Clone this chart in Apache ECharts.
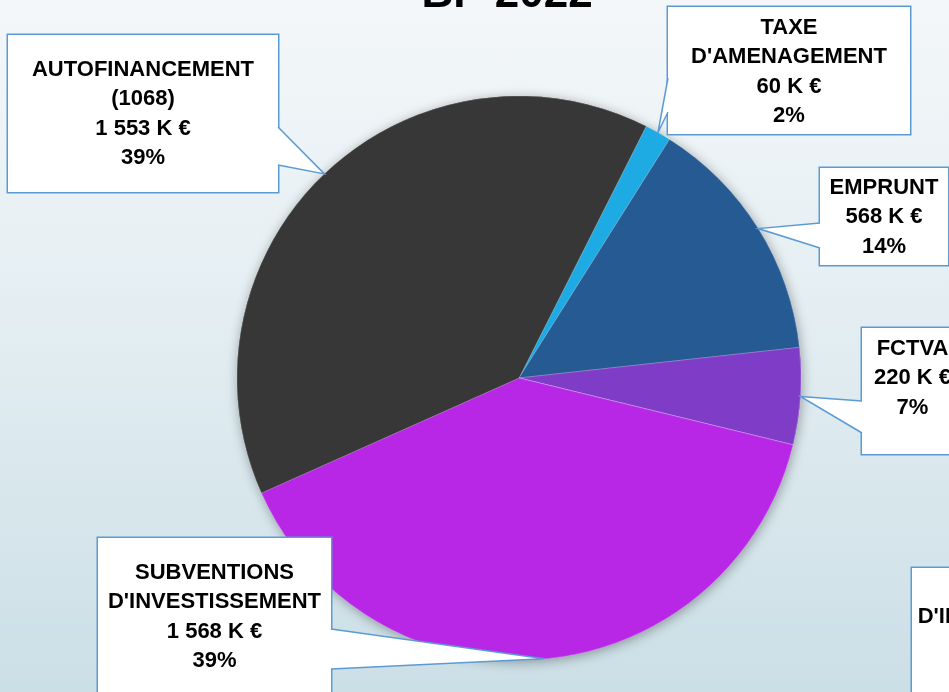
<!DOCTYPE html>
<html><head><meta charset="utf-8">
<script src="https://cdn.jsdelivr.net/npm/echarts@6/dist/echarts.min.js"></script>
<style>
html,body{margin:0;padding:0;width:949px;height:692px;overflow:hidden}
#c{width:949px;height:692px;background:linear-gradient(to bottom,#f4f7f9 0%,#e4eef2 45%,#cbdfe6 100%)}
</style>
</head><body><div id="c"></div>
<script>
// ---- data ----
const titleText = 'BP 2022';
const categories = ["TAXE\nD'AMENAGEMENT", "EMPRUNT", "FCTVA", "CESSIONS\nD'IMMOBILISATIONS", "SUBVENTIONS\nD'INVESTISSEMENT", "AUTOFINANCEMENT\n(1068)"];
const valuesK = [60, 568, 220, 0, 1568, 1553];
const percentLabels = ['2%', '14%', '7%', '0%', '39%', '39%'];
const sliceColors = ['#1eaae2', '#265a92', '#7e3cc7', '#b0b0b0', '#b827e6', '#373737'];

// ---- layout (callout boxes and wedge bases) ----
const LH = 29.4;
const callouts = [
  {x: 668, y: 7,   w: 242, h: 127, pt: 6,  base: [[668, 78], [668, 112]]},
  {x: 820, y: 168, w: 128, h: 97,  pt: 5,  base: [[820, 223], [820, 248]]},
  {x: 862, y: 328, w: 101, h: 126, pt: 6,  base: [[862, 401], [862, 433]]},
  {x: 912, y: 568, w: 230, h: 130, pt: 5,  base: null},
  {x: 98,  y: 538, w: 233, h: 160, pt: 20, base: [[331, 629], [331, 669]]},
  {x: 8,   y: 35,  w: 270, h: 157, pt: 20, base: [[278, 127], [278, 165]]}
];

function fmtK(v) {
  if (v >= 1000) return Math.floor(v / 1000) + ' ' + String(v % 1000).padStart(3, '0') + ' K €';
  return v + ' K €';
}

const FONT = '"Liberation Sans", Arial, sans-serif';
const pieData = categories.map((name, i) => {
  const nLines = name.split('\n').length + 2;
  const c = callouts[i];
  return {
    name: name,
    value: valuesK[i],
    itemStyle: {color: sliceColors[i]},
    label: {
      width: c.w,
      padding: [c.pt, 0, Math.max(0, c.h - c.pt - nLines * LH), 0]
    }
  };
});

const chart = echarts.init(document.getElementById('c'), null, {renderer: 'canvas'});
const option = {
  backgroundColor: 'transparent',
  animation: false,
  series: [
    {
      type: 'pie', silent: true, z: 1,
      center: [519, 378], radius: 282, startAngle: 63.2, clockwise: true,
      avoidLabelOverlap: false,
      label: {show: false}, labelLine: {show: false},
      itemStyle: {shadowBlur: 12, shadowColor: 'rgba(0,0,0,0.35)', shadowOffsetX: 1, shadowOffsetY: 2},
      data: categories.map((name, i) => ({name: name, value: valuesK[i], itemStyle: {color: sliceColors[i]}}))
    },
    {
      type: 'pie', silent: true, z: 2,
      center: [519, 378], radius: 282, startAngle: 63.2, clockwise: true,
      avoidLabelOverlap: false,
      itemStyle: {borderColor: 'rgba(255,255,255,0.35)', borderWidth: 0.6},
      label: {
        show: true, position: 'outside',
        formatter: p => p.name + '\n' + fmtK(p.value) + '\n' + percentLabels[p.dataIndex],
        color: '#000', fontFamily: FONT, fontWeight: 'bold', fontSize: 22, lineHeight: LH,
        backgroundColor: '#ffffff', borderColor: '#5b9bd5', borderWidth: 1.5, align: 'center'
      },
      labelLine: {show: false},
      labelLayout: function (params) {
        const c = callouts[params.dataIndex];
        return {x: c.x + c.w / 2, y: c.y, align: 'center', verticalAlign: 'top'};
      },
      data: pieData
    }
  ]
};
chart.setOption(option);

// wedge pointers from the library's own slice layout
const sdata = chart.getModel().getSeriesByIndex(1).getData();
const graphics = [];
callouts.forEach((c, i) => {
  if (!c.base) return;
  const L = sdata.getItemLayout(i);
  const mid = (L.startAngle + L.endAngle) / 2;
  const tip = [L.cx + L.r * Math.cos(mid), L.cy + L.r * Math.sin(mid)];
  const b1 = c.base[0], b2 = c.base[1];
  const dir = b1[0] > tip[0] ? 1 : -1;
  graphics.push({
    type: 'polygon', z: 100, silent: true,
    shape: {points: [[b1[0] + dir * 2, b1[1]], b1, tip, b2, [b2[0] + dir * 2, b2[1]]]},
    style: {fill: '#ffffff', stroke: null}
  });
  graphics.push({
    type: 'polyline', z: 101, silent: true,
    shape: {points: [b1, tip, b2]},
    style: {stroke: '#5b9bd5', lineWidth: 1.5, fill: null}
  });
});
graphics.push({
  type: 'text', z: 102, silent: true, x: 507, y: -5,
  style: {text: titleText, font: 'bold 44px ' + FONT, fill: '#000', align: 'center', verticalAlign: 'middle'}
});
chart.setOption({graphic: graphics});
</script>
</body></html>
